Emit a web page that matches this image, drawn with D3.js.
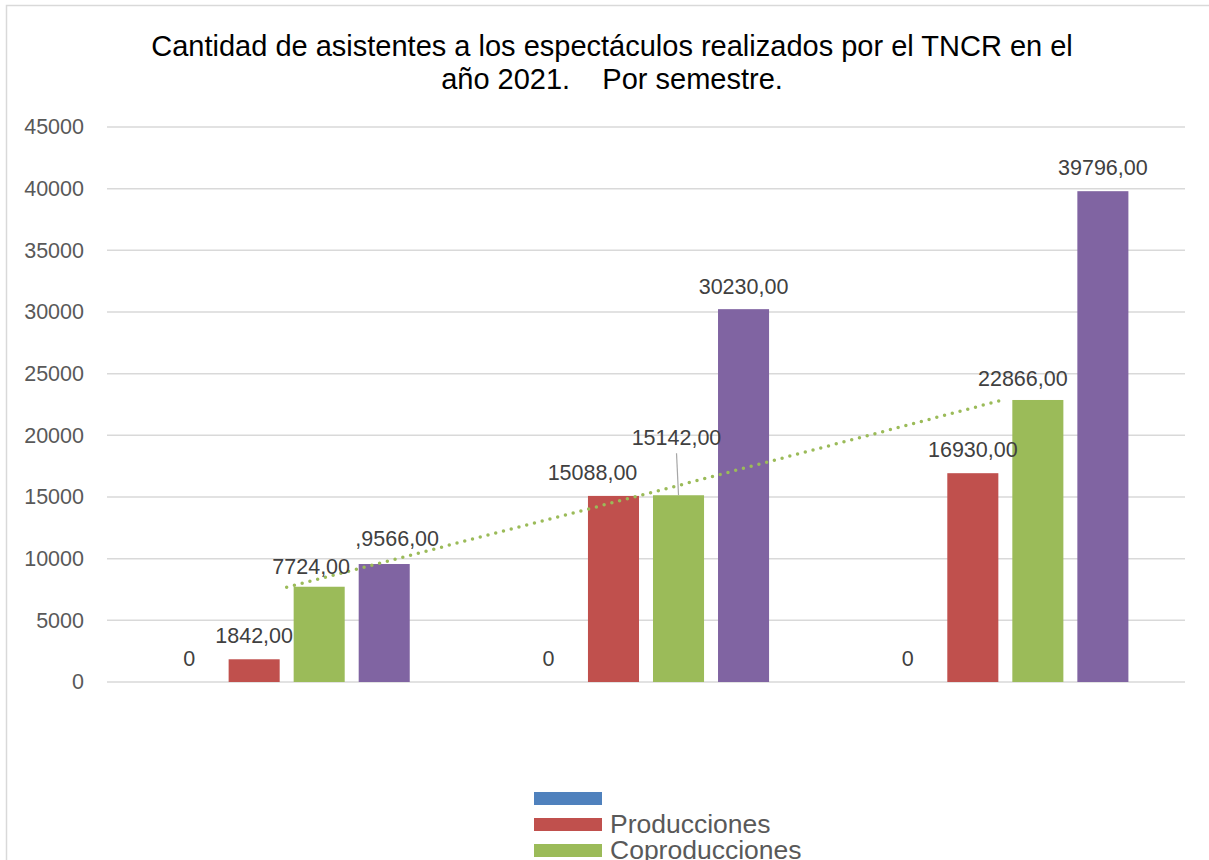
<!DOCTYPE html>
<html>

<head>
  <meta charset="utf-8">
  <script src="https://d3js.org/d3.v7.min.js"></script>
  <style>
    body {
      margin: 0;
      background: #fff;
      font-family: "Liberation Sans", Arial, sans-serif;
    }
  </style>
</head>

<body>
  <script>
    // datos
    const categories = ["Grupo 1", "Grupo 2", "Grupo 3"];
    const seriesNames = ["", "Producciones", "Coproducciones", "Total"];
    const serie0 = [0, 0, 0];
    const producciones = [1842, 15088, 16930];
    const coproducciones = [7724, 15142, 22866];
    const total = [9566, 30230, 39796];
    const labelTexts = [
      ["0", "0", "0"],
      ["1842,00", "15088,00", "16930,00"],
      ["7724,00", "15142,00", "22866,00"],
      [",9566,00", "30230,00", "39796,00"]
    ];
    const yTicks = [0, 5000, 10000, 15000, 20000, 25000, 30000, 35000, 40000, 45000];

    // desplazamientos manuales de etiquetas [dx, dy]
    const labelShift = [
      [[0, 0], [0, 0], [0, 0]],
      [[0, 0], [-21, 0], [0, 0]],
      [[-8, 3], [-2, -34], [-15, 2]],
      [[13, -2], [0, 1], [0, 0]]
    ];

    const colors = ["#4F81BD", "#C0504D", "#9BBB59", "#8064A2"];
    const values = [serie0, producciones, coproducciones, total];

    const width = 1209;
    const height = 860;
    const plot = { left: 107, right: 1185, top: 127, bottom: 682 };

    const svg = d3.select("body")
      .append("svg")
      .attr("width", width)
      .attr("height", height);

    // borde del área del gráfico
    svg.append("path")
      .attr("d", `M6.5,${height} V5.5 H${width}`)
      .attr("fill", "none")
      .attr("stroke", "#d9d9d9")
      .attr("stroke-width", 1.5);

    const x0 = d3.scaleBand()
      .domain(categories)
      .range([plot.left, plot.right])
      .paddingInner(0)
      .paddingOuter(0);

    const x1 = d3.scaleBand()
      .domain(d3.range(seriesNames.length))
      .range([56.6, x0.bandwidth() - 56.6])
      .paddingInner(0.215)
      .paddingOuter(0);

    const y = d3.scaleLinear()
      .domain([0, 45000])
      .range([plot.bottom, plot.top]);

    // rejilla
    svg.append("g")
      .selectAll("line")
      .data(yTicks)
      .join("line")
      .attr("x1", plot.left)
      .attr("x2", plot.right)
      .attr("y1", d => y(d))
      .attr("y2", d => y(d))
      .attr("stroke", "#d9d9d9")
      .attr("stroke-width", 1.5);

    // eje y
    const yAxis = svg.append("g")
      .attr("transform", `translate(${plot.left},0)`)
      .call(d3.axisLeft(y).tickValues(yTicks).tickSize(0).tickPadding(23).tickFormat(d3.format("d")));
    yAxis.select(".domain").remove();
    yAxis.selectAll("text")
      .attr("fill", "#595959")
      .style("font-size", "21.5px")
      .style("font-family", "'Liberation Sans', Arial, sans-serif");

    // barras
    values.forEach((vals, s) => {
      svg.append("g")
        .selectAll("rect")
        .data(vals)
        .join("rect")
        .attr("x", (d, i) => x0(categories[i]) + x1(s))
        .attr("y", d => y(d))
        .attr("width", x1.bandwidth())
        .attr("height", d => y(0) - y(d))
        .attr("fill", colors[s]);
    });

    // línea de tendencia (lineal) de coproducciones
    const xs = [1, 2, 3];
    const mx = d3.mean(xs), my = d3.mean(coproducciones);
    const slope = d3.sum(xs, (v, i) => (v - mx) * (coproducciones[i] - my)) / d3.sum(xs, v => (v - mx) ** 2);
    const icpt = my - slope * mx;
    const trend = xs.map((v, i) => [x0(categories[i]) + x0.bandwidth() / 2 - (i === 2 ? 5 : 0), y(icpt + slope * v)]);
    svg.append("path")
      .attr("d", d3.line()(trend))
      .attr("fill", "none")
      .attr("stroke", "#9BBB59")
      .attr("stroke-width", 3.5)
      .attr("stroke-linecap", "round")
      .attr("stroke-dasharray", "0 8");

    // línea guía de la etiqueta 15142
    const gx = x0(categories[1]) + x1(2) + x1.bandwidth() / 2;
    svg.append("line")
      .attr("x1", gx - 2)
      .attr("y1", y(coproducciones[1]) - 42)
      .attr("x2", gx)
      .attr("y2", y(coproducciones[1]))
      .attr("stroke", "#a6a6a6")
      .attr("stroke-width", 1.2);

    // etiquetas de datos
    values.forEach((vals, s) => {
      svg.append("g")
        .selectAll("text")
        .data(vals)
        .join("text")
        .attr("x", (d, i) => x0(categories[i]) + x1(s) + x1.bandwidth() / 2 + labelShift[s][i][0])
        .attr("y", (d, i) => y(d) - 16 + labelShift[s][i][1])
        .attr("text-anchor", "middle")
        .attr("fill", "#404040")
        .style("font-size", "21.5px")
        .text((d, i) => labelTexts[s][i]);
    });

    // título
    const title = svg.append("text")
      .attr("x", 612)
      .attr("text-anchor", "middle")
      .attr("fill", "#000")
      .style("font-size", "29px")
      .style("white-space", "pre");
    title.append("tspan").attr("x", 612).attr("y", 56)
      .text("Cantidad de asistentes a los espectáculos realizados por el TNCR en el");
    title.append("tspan").attr("x", 612).attr("y", 89)
      .text("año 2021.    Por semestre.");

    // leyenda
    const legend = svg.append("g")
      .attr("transform", "translate(534,792)");
    const item = legend.selectAll("g")
      .data(seriesNames)
      .join("g")
      .attr("transform", (d, i) => `translate(0,${i * 26})`);
    item.append("rect")
      .attr("width", 68)
      .attr("height", 13)
      .attr("fill", (d, i) => colors[i]);
    item.append("text")
      .attr("x", 76)
      .attr("y", 15)
      .attr("fill", "#595959")
      .style("font-size", "26.5px")
      .text(d => d);
  </script>
</body>

</html>
